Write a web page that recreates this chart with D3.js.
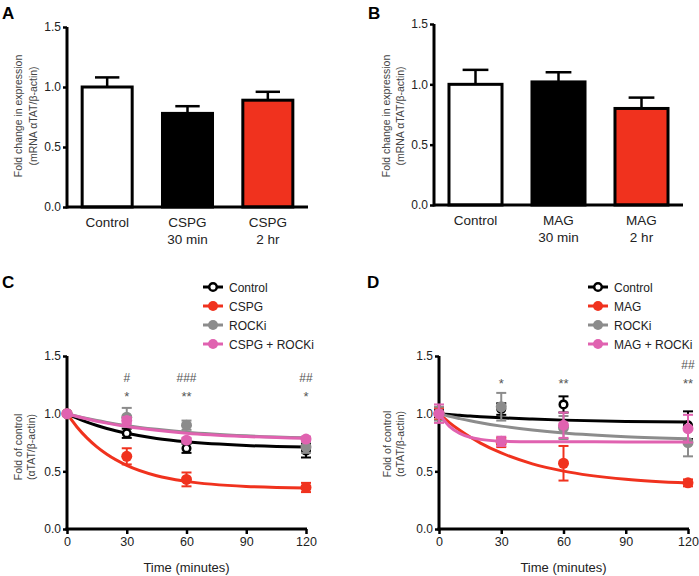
<!DOCTYPE html>
<html>
<head>
<meta charset="utf-8">
<script src="https://cdn.jsdelivr.net/npm/d3@7"></script>
<style>
  body { margin: 0; background: #fff; }
  svg { font-family: "Liberation Sans", Arial, sans-serif; }
</style>
</head>
<body>
<div id="fig"></div>
<script>
// bar panels (A, B)
const catsA = [["Control"], ["CSPG", "30 min"], ["CSPG", "2 hr"]];
const meansA = [1.0, 0.78, 0.89];
const errA = [0.08, 0.06, 0.07];
const catsB = [["Control"], ["MAG", "30 min"], ["MAG", "2 hr"]];
const meansB = [1.0, 1.02, 0.80];
const errB = [0.12, 0.08, 0.09];
const barFills = ["#ffffff", "#000000", "#f0321e"];

const yTicks = [0, 0.5, 1.0, 1.5];
const timeTicks = [0, 30, 60, 90, 120];

// time course panels (C, D)
const times = [0, 30, 60, 120];
const fitTimes = [0, 5, 10, 15, 20, 30, 45, 60, 90, 120];

const namesC = ["Control", "CSPG", "ROCKi", "CSPG + ROCKi"];
const meanC_ctrl = [1.0, 0.83, 0.70, 0.68];
const semC_ctrl = [0.01, 0.04, 0.04, 0.06];
const meanC_cspg = [1.0, 0.63, 0.43, 0.36];
const semC_cspg = [0.01, 0.07, 0.06, 0.04];
const meanC_rock = [1.0, 0.97, 0.90, 0.71];
const semC_rock = [0.01, 0.08, 0.04, 0.05];
const meanC_both = [1.0, 0.94, 0.77, 0.78];
const semC_both = [0.01, 0.03, 0.02, 0.02];
const fitC_ctrl = [1.0, 0.961, 0.927, 0.897, 0.871, 0.830, 0.785, 0.756, 0.724, 0.710];
const fitC_cspg = [1.0, 0.885, 0.790, 0.712, 0.648, 0.552, 0.462, 0.413, 0.369, 0.356];
const fitC_rock = [1.0, 0.978, 0.958, 0.940, 0.924, 0.896, 0.864, 0.839, 0.808, 0.791];
const fitC_both = [1.0, 0.976, 0.955, 0.935, 0.918, 0.889, 0.856, 0.831, 0.802, 0.786];

const namesD = ["Control", "MAG", "ROCKi", "MAG + ROCKi"];
const meanD_ctrl = [1.0, 1.04, 1.08, 0.90];
const semD_ctrl = [0.03, 0.05, 0.07, 0.12];
const meanD_mag = [1.0, 0.75, 0.57, 0.40];
const semD_mag = [0.05, 0.04, 0.15, 0.03];
const meanD_rock = [1.0, 1.06, 0.88, 0.75];
const semD_rock = [0.06, 0.12, 0.10, 0.12];
const meanD_both = [1.0, 0.76, 0.90, 0.87];
const semD_both = [0.08, 0.04, 0.11, 0.12];
const fitD_ctrl = [1.0, 0.992, 0.986, 0.979, 0.974, 0.964, 0.953, 0.944, 0.933, 0.927];
const fitD_mag = [1.0, 0.923, 0.856, 0.797, 0.745, 0.659, 0.565, 0.502, 0.431, 0.398];
const fitD_rock = [1.0, 0.977, 0.957, 0.938, 0.921, 0.892, 0.858, 0.832, 0.800, 0.782];
const fitD_both = [1.0, 0.890, 0.829, 0.795, 0.777, 0.762, 0.756, 0.756, 0.755, 0.755];

const seriesColors = ["#000000", "#f0321e", "#8c8c8c", "#e062b0"];

// significance marks: [time, text, row]  row 0 = upper, 1 = lower
const marksC = [[30, "#", 0], [30, "*", 1], [60, "###", 0], [60, "**", 1], [120, "##", 0], [120, "*", 1]];
const marksD = [[30, "*", 1], [60, "**", 1], [120, "##", 0], [120, "**", 1]];

const W = 699, H = 576;
const svg = d3.select("#fig").append("svg").attr("width", W).attr("height", H);

function letter(t, x, y) {
    svg.append("text").attr("x", x).attr("y", y)
        .attr("font-size", 17).attr("font-weight", "bold").text(t);
}

function yTitle(lines, cx, cy, gap) {
    lines.forEach((l, i) => {
        svg.append("text")
            .attr("transform", `translate(${cx + i * gap},${cy}) rotate(-90)`)
            .attr("text-anchor", "middle")
            .attr("dominant-baseline", "central")
            .attr("font-size", 10.5)
            .attr("fill", "#444")
            .text(l);
    });
}

function yAxis(y, x0) {
    const g = svg.append("g").attr("transform", `translate(${x0},0)`)
        .call(d3.axisLeft(y).tickValues(yTicks).tickFormat(d3.format(".1f")).tickSize(4).tickPadding(2));
    g.select(".domain").attr("stroke-width", 3).attr("d", `M0,${y(0) + 1.5}V${y(1.5)}`);
    g.selectAll(".tick line").attr("stroke-width", 2.5);
    g.selectAll(".tick text").attr("font-size", 12).attr("fill", "#222")
        .attr("font-family", "Liberation Sans, Arial, sans-serif");
}

function barPanel(cats, means, errs, x0, x1, yTop, yBot, pad) {
    const x = d3.scaleBand().domain(d3.range(cats.length)).range([x0, x1])
        .paddingInner(pad).paddingOuter(pad / 2);
    const y = d3.scaleLinear().domain([0, 1.5]).range([yBot, yTop]);

    // error bars (upward only)
    const g = svg.append("g");
    g.selectAll(".err").data(means).join("line")
        .attr("x1", (d, i) => x(i) + x.bandwidth() / 2)
        .attr("x2", (d, i) => x(i) + x.bandwidth() / 2)
        .attr("y1", d => y(d))
        .attr("y2", (d, i) => y(d + errs[i]))
        .attr("stroke", "#000").attr("stroke-width", 2.5);
    g.selectAll(".cap").data(means).join("line")
        .attr("x1", (d, i) => x(i) + x.bandwidth() * 0.27)
        .attr("x2", (d, i) => x(i) + x.bandwidth() * 0.73)
        .attr("y1", (d, i) => y(d + errs[i]))
        .attr("y2", (d, i) => y(d + errs[i]))
        .attr("stroke", "#000").attr("stroke-width", 2.5);

    g.selectAll(".bar").data(means).join("rect")
        .attr("x", (d, i) => x(i) + 1.5)
        .attr("width", x.bandwidth() - 3)
        .attr("y", d => y(d))
        .attr("height", d => y(0) - y(d))
        .attr("fill", (d, i) => barFills[i])
        .attr("stroke", "#000").attr("stroke-width", 3);

    // x axis line
    svg.append("line").attr("x1", x0).attr("x2", x1)
        .attr("y1", y(0)).attr("y2", y(0))
        .attr("stroke", "#000").attr("stroke-width", 3);
    yAxis(y, x0);

    cats.forEach((lines, i) => {
        lines.forEach((l, j) => {
            svg.append("text")
                .attr("x", x(i) + x.bandwidth() / 2)
                .attr("y", y(0) + 20 + j * 17)
                .attr("text-anchor", "middle")
                .attr("font-size", 13.5).attr("fill", "#222")
                .text(l);
        });
    });
}

function timePanel(names, means, sems, fits, marks, markRows, x0, x1, yTop, yBot, legX) {
    const x = d3.scaleLinear().domain([0, 120]).range([x0, x1]);
    const y = d3.scaleLinear().domain([0, 1.5]).range([yBot, yTop]);

    // axes
    const gx = svg.append("g").attr("transform", `translate(0,${y(0)})`)
        .call(d3.axisBottom(x).tickValues(timeTicks).tickSize(5).tickPadding(3));
    gx.select(".domain").attr("stroke-width", 3).attr("d", `M${x0 - 1.5},0H${x1 + 1}`);
    gx.selectAll(".tick line").attr("stroke-width", 2.5);
    gx.selectAll(".tick text").attr("font-size", 12.5).attr("fill", "#222")
        .attr("font-family", "Liberation Sans, Arial, sans-serif");
    yAxis(y, x0);

    svg.append("text").attr("x", (x0 + x1) / 2).attr("y", y(0) + 43)
        .attr("text-anchor", "middle").attr("font-size", 13).attr("fill", "#222")
        .text("Time (minutes)");

    const line = d3.line().x(d => x(d[0])).y(d => y(d[1])).curve(d3.curveMonotoneX);

    names.forEach((n, s) => {
        const col = seriesColors[s];
        const g = svg.append("g");
        g.append("path")
            .datum(fitTimes.map((t, i) => [t, fits[s][i]]))
            .attr("d", line).attr("fill", "none")
            .attr("stroke", col).attr("stroke-width", 3);
        const pts = times.map((t, i) => ({ t: t, m: means[s][i], e: sems[s][i] }));
        g.selectAll(".eb").data(pts).join("line")
            .attr("x1", d => x(d.t)).attr("x2", d => x(d.t))
            .attr("y1", d => y(d.m - d.e)).attr("y2", d => y(d.m + d.e))
            .attr("stroke", col).attr("stroke-width", 2);
        g.selectAll(".cu").data(pts).join("line")
            .attr("x1", d => x(d.t) - 5).attr("x2", d => x(d.t) + 5)
            .attr("y1", d => y(d.m + d.e)).attr("y2", d => y(d.m + d.e))
            .attr("stroke", col).attr("stroke-width", 2);
        g.selectAll(".cd").data(pts).join("line")
            .attr("x1", d => x(d.t) - 5).attr("x2", d => x(d.t) + 5)
            .attr("y1", d => y(d.m - d.e)).attr("y2", d => y(d.m - d.e))
            .attr("stroke", col).attr("stroke-width", 2);
        g.selectAll(".pt").data(pts).join("circle")
            .attr("cx", d => x(d.t)).attr("cy", d => y(d.m))
            .attr("r", s === 0 ? 3.8 : 5.5)
            .attr("fill", s === 0 ? "#fff" : col)
            .attr("stroke", col).attr("stroke-width", s === 0 ? 2.5 : 0);

        // legend row
        const ly = 287 + s * 19;
        svg.append("line").attr("x1", legX - 10).attr("x2", legX + 10)
            .attr("y1", ly).attr("y2", ly).attr("stroke", col).attr("stroke-width", 3);
        svg.append("circle").attr("cx", legX).attr("cy", ly)
            .attr("r", s === 0 ? 3.8 : 5)
            .attr("fill", s === 0 ? "#fff" : col)
            .attr("stroke", col).attr("stroke-width", s === 0 ? 2.5 : 0);
        svg.append("text").attr("x", legX + 16).attr("y", ly + 4.5)
            .attr("font-size", 12).attr("fill", "#222").text(n);
    });

    svg.selectAll(null).data(marks).join("text")
        .attr("x", d => x(d[0]))
        .attr("y", d => yTop + markRows[d[2]])
        .attr("text-anchor", "middle")
        .attr("font-size", d => d[1].includes("*") ? 13 : 12)
        .attr("fill", "#555")
        .text(d => d[1]);
}

letter("A", 2, 19);
letter("B", 368, 19);
letter("C", 2, 288);
letter("D", 367, 288);

barPanel(catsA, meansA, errA, 67, 308, 27, 207, 0.34);
barPanel(catsB, meansB, errB, 434, 683, 24, 205, 0.325);
yTitle(["Fold change in expression", "(mRNA \u03b1TAT/\u03b2-actin)"], 18, 116, 15);
yTitle(["Fold change in expression", "(mRNA \u03b1TAT/\u03b2-actin)"], 386, 116, 14);

timePanel(namesC,
    [meanC_ctrl, meanC_cspg, meanC_rock, meanC_both],
    [semC_ctrl, semC_cspg, semC_rock, semC_both],
    [fitC_ctrl, fitC_cspg, fitC_rock, fitC_both],
    marksC, [26, 45], 67, 306, 356, 529, 213);
timePanel(namesD,
    [meanD_ctrl, meanD_mag, meanD_rock, meanD_both],
    [semD_ctrl, semD_mag, semD_rock, semD_both],
    [fitD_ctrl, fitD_mag, fitD_rock, fitD_both],
    marksD, [13, 32], 439, 688, 356, 529, 598);
yTitle(["Fold of control", "(\u03b1TAT/\u03b2-actin)"], 18, 447, 13);
yTitle(["Fold of control", "(\u03b1TAT/\u03b2-actin)"], 387, 444, 13);
</script>
</body>
</html>
